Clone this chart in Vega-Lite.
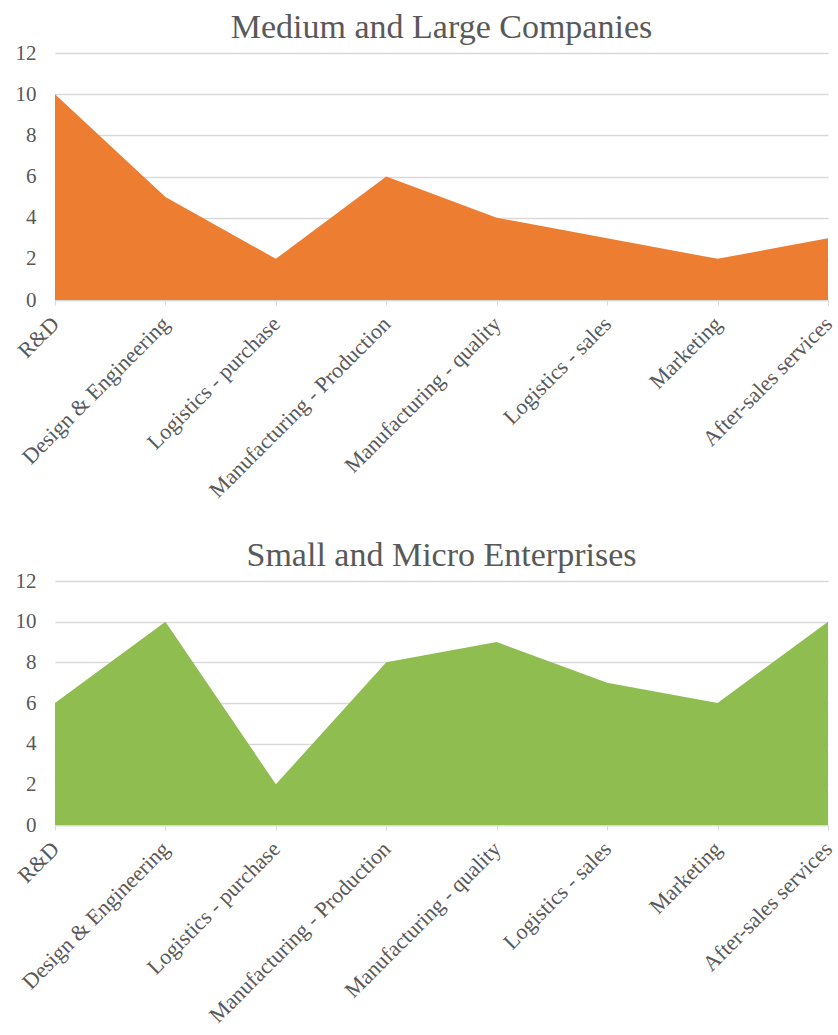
{
  "$schema": "https://vega.github.io/schema/vega-lite/v6.json",
  "background": "white",
  "padding": {"left": 13, "top": 11, "right": 0, "bottom": 4},
  "spacing": 37,
  "datasets": {
    "scores": [
      {"group": "Medium and Large Companies", "area": "R&D", "value": 10},
      {"group": "Medium and Large Companies", "area": "Design & Engineering", "value": 5},
      {"group": "Medium and Large Companies", "area": "Logistics - purchase", "value": 2},
      {"group": "Medium and Large Companies", "area": "Manufacturing - Production", "value": 6},
      {"group": "Medium and Large Companies", "area": "Manufacturing - quality", "value": 4},
      {"group": "Medium and Large Companies", "area": "Logistics - sales", "value": 3},
      {"group": "Medium and Large Companies", "area": "Marketing", "value": 2},
      {"group": "Medium and Large Companies", "area": "After-sales services", "value": 3},
      {"group": "Small and Micro Enterprises", "area": "R&D", "value": 6},
      {"group": "Small and Micro Enterprises", "area": "Design & Engineering", "value": 10},
      {"group": "Small and Micro Enterprises", "area": "Logistics - purchase", "value": 2},
      {"group": "Small and Micro Enterprises", "area": "Manufacturing - Production", "value": 8},
      {"group": "Small and Micro Enterprises", "area": "Manufacturing - quality", "value": 9},
      {"group": "Small and Micro Enterprises", "area": "Logistics - sales", "value": 7},
      {"group": "Small and Micro Enterprises", "area": "Marketing", "value": 6},
      {"group": "Small and Micro Enterprises", "area": "After-sales services", "value": 10}
    ]
  },
  "config": {
    "font": "Liberation Serif",
    "view": {"stroke": null},
    "title": {"font": "Liberation Serif", "fontSize": 34, "fontWeight": "normal", "color": "#595959", "offset": -3},
    "axis": {"labelFont": "Liberation Serif", "labelColor": "#595959", "labelFontSize": 21, "labelLimit": 0, "title": null}
  },
  "vconcat": [
    {
      "title": "Medium and Large Companies",
      "width": 773,
      "height": 247,
      "data": {"name": "scores"},
      "transform": [{"filter": "datum.group === 'Medium and Large Companies'"}],
      "mark": {"type": "area", "color": "#ED7D31", "opacity": 1},
      "encoding": {
        "x": {
          "field": "area", "type": "ordinal", "sort": null,
          "scale": {"type": "point", "padding": 0},
          "axis": {"labelAngle": -45, "labelAlign": "right", "labelBaseline": "middle", "labelDx": -5.7, "labelFontSize": 22, "domainColor": "#d9d9d9", "domainWidth": 1.5, "tickColor": "#d9d9d9", "tickSize": 5, "labelPadding": 15, "grid": false}
        },
        "y": {
          "field": "value", "type": "quantitative",
          "scale": {"domain": [0, 12]},
          "axis": {"values": [0, 2, 4, 6, 8, 10, 12], "domain": false, "ticks": false, "labelPadding": 19, "gridColor": "#d9d9d9", "gridWidth": 1.5}
        }
      }
    },
    {
      "title": "Small and Micro Enterprises",
      "width": 773,
      "height": 244,
      "data": {"name": "scores"},
      "transform": [{"filter": "datum.group === 'Small and Micro Enterprises'"}],
      "mark": {"type": "area", "color": "#8FBD50", "opacity": 1},
      "encoding": {
        "x": {
          "field": "area", "type": "ordinal", "sort": null,
          "scale": {"type": "point", "padding": 0},
          "axis": {"labelAngle": -45, "labelAlign": "right", "labelBaseline": "middle", "labelDx": -5.7, "labelFontSize": 22, "domainColor": "#d9d9d9", "domainWidth": 1.5, "tickColor": "#d9d9d9", "tickSize": 5, "labelPadding": 15, "grid": false}
        },
        "y": {
          "field": "value", "type": "quantitative",
          "scale": {"domain": [0, 12]},
          "axis": {"values": [0, 2, 4, 6, 8, 10, 12], "domain": false, "ticks": false, "labelPadding": 19, "gridColor": "#d9d9d9", "gridWidth": 1.5}
        }
      }
    }
  ]
}
